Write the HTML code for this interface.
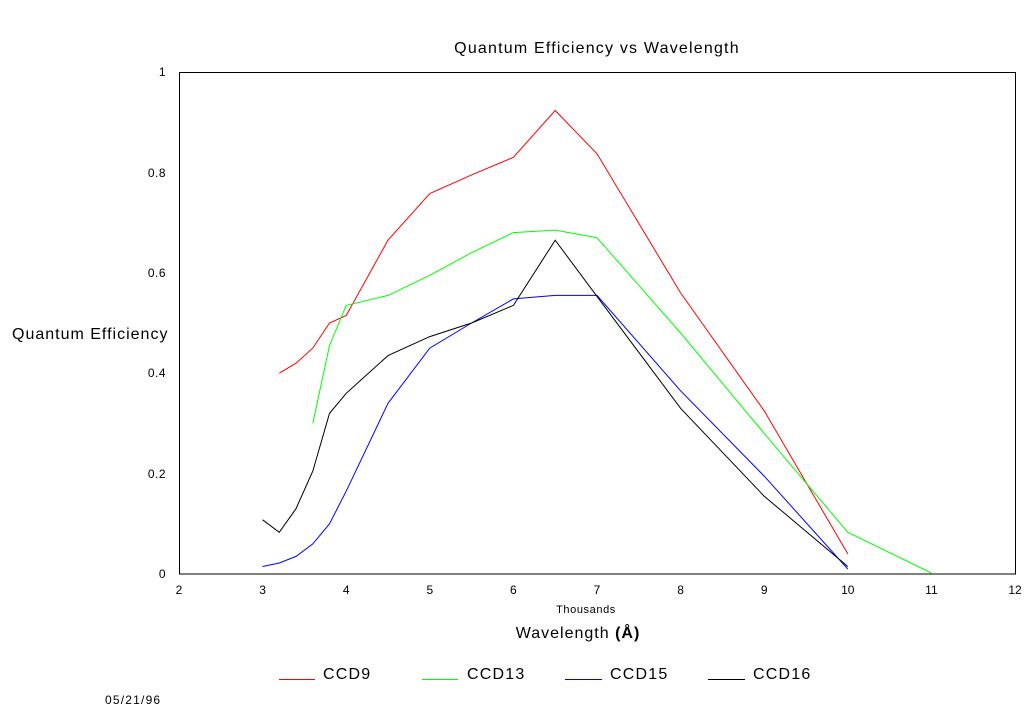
<!DOCTYPE html>
<html><head><style>body{margin:0;background:#fff}svg{display:block}text{font-family:"Liberation Sans",sans-serif;fill:#000}</style></head>
<body>
<svg width="1026" height="708" viewBox="0 0 1026 708">
<rect x="179.5" y="72.5" width="836" height="501.5" fill="none" stroke="#000" stroke-width="1"/>
<text x="597" y="53" font-size="16" text-anchor="middle" letter-spacing="1.2">Quantum Efficiency vs Wavelength</text>
<g font-size="12" text-anchor="end" letter-spacing="0.5">
<text x="166" y="578">0</text><text x="166" y="478">0.2</text><text x="166" y="377">0.4</text>
<text x="166" y="277">0.6</text><text x="166" y="177">0.8</text><text x="166" y="76">1</text>
</g>
<g font-size="12" text-anchor="middle">
<text x="179" y="594">2</text><text x="262.6" y="594">3</text><text x="346.2" y="594">4</text>
<text x="429.8" y="594">5</text><text x="513.4" y="594">6</text><text x="597" y="594">7</text>
<text x="680.6" y="594">8</text><text x="764.2" y="594">9</text><text x="847.8" y="594">10</text>
<text x="931.4" y="594">11</text><text x="1015" y="594">12</text>
<text x="586" y="613" font-size="11" letter-spacing="0.6">Thousands</text>
</g>
<text x="578" y="638" font-size="16" text-anchor="middle" letter-spacing="1">Wavelength <tspan font-weight="bold">(Å)</tspan></text>
<text x="12" y="339" font-size="16" letter-spacing="1">Quantum Efficiency</text>
<g fill="none" stroke-width="1">
<polyline stroke="#f00" points="279.3,373.2 296,363.2 312.8,348.1 329.5,323 346.2,315.5 388,240.2 429.8,193.5 471.6,174.9 513.4,157.3 555.2,110.5 597,153.8 680.6,292.9 764.2,410.8 847.8,553.9"/>
<polyline stroke="#0f0" points="312.8,423.4 329.5,345.6 346.2,305.4 388,295.4 429.8,275.3 471.6,252.7 513.4,232.6 555.2,230.1 597,237.7 680.6,333 764.2,433.4 847.8,532.3 931.4,573"/>
<polyline stroke="#00f" points="262.6,566.5 279.3,563 296,556.4 312.8,543.9 329.5,523.8 346.2,491.2 388,403.3 429.8,348.1 471.6,323 513.4,298.9 555.2,295.4 597,295.4 680.6,390.8 764.2,476.1 847.8,569"/>
<polyline stroke="#000" points="262.6,519.8 279.3,532.3 296,508.7 312.8,471.1 329.5,413.4 346.2,393.3 388,355.6 429.8,336.6 471.6,323 513.4,305.4 555.2,240.2 597,296.4 680.6,408.3 764.2,496.2 847.8,566.5"/>
</g>
<g stroke-width="1">
<line x1="279" y1="679.5" x2="315" y2="679.5" stroke="#f00"/>
<line x1="422" y1="679.5" x2="458" y2="679.5" stroke="#0f0"/>
<line x1="565" y1="679.5" x2="602" y2="679.5" stroke="#00f"/>
<line x1="708" y1="679.5" x2="745" y2="679.5" stroke="#000"/>
</g>
<g font-size="16" letter-spacing="1.2">
<text x="323" y="679">CCD9</text><text x="467" y="679">CCD13</text>
<text x="610" y="679">CCD15</text><text x="753" y="679">CCD16</text>
</g>
<text x="105" y="704" font-size="12" letter-spacing="1.2">05/21/96</text>
</svg>
</body></html>
